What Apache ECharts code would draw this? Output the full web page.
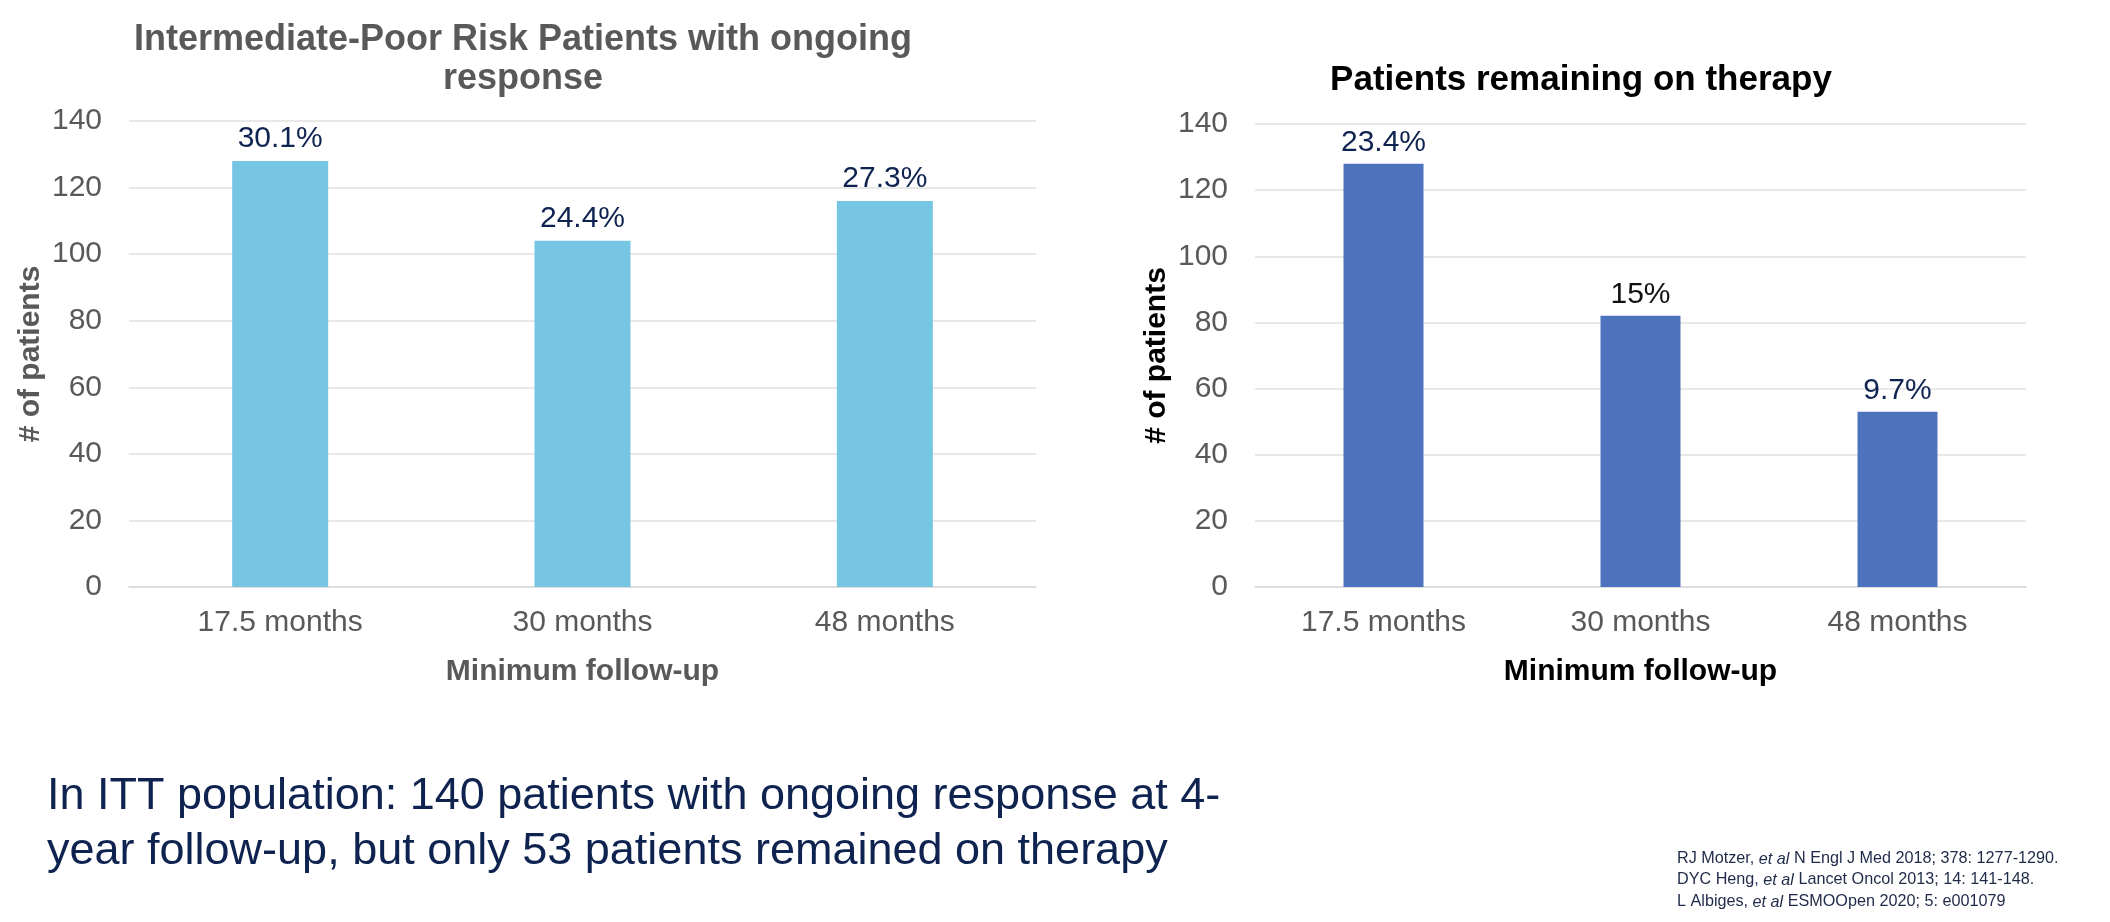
<!DOCTYPE html>
<html>
<head>
<meta charset="utf-8">
<script src="https://cdn.jsdelivr.net/npm/echarts@6/dist/echarts.min.js"></script>
<style>
html,body{margin:0;padding:0;background:#fff;}
#c{width:2110px;height:922px;}
</style>
</head>
<body>
<div id="c"></div>
<script>
const categories = ['17.5 months', '30 months', '48 months'];
const responseValues = [128, 104, 116];
const responseLabels = ['30.1%', '24.4%', '27.3%'];
const therapyValues = [128, 82, 53];
const therapyLabels = ['23.4%', '15%', '9.7%'];
const yTicks = { min: 0, max: 140, interval: 20 };

const FONT = '"Liberation Sans", Arial, sans-serif';
const GREY = '#595959';
const NAVY = '#0f2350';
const CITE = '#1f2a48';

const chart = echarts.init(document.getElementById('c'));

function xAx(gridIndex, nameColor) {
  return {
    type: 'category', gridIndex, data: categories,
    axisLine: { lineStyle: { color: '#d9d9d9', width: 1.5 } },
    axisTick: { show: false },
    axisLabel: { color: GREY, fontSize: 30, fontFamily: FONT, margin: 21 },
    name: 'Minimum follow-up', nameLocation: 'middle', nameGap: 70,
    nameTextStyle: { color: nameColor, fontSize: 30, fontWeight: 'bold', fontFamily: FONT }
  };
}
function yAx(gridIndex, nameColor) {
  return {
    type: 'value', gridIndex, min: yTicks.min, max: yTicks.max, interval: yTicks.interval,
    axisLine: { show: false }, axisTick: { show: false },
    splitLine: { lineStyle: { color: '#e0e0e0', width: 1.5 } },
    axisLabel: { color: GREY, fontSize: 30, fontFamily: FONT, margin: 27 },
    name: '# of patients', nameLocation: 'middle', nameGap: 83,
    nameTextStyle: { color: nameColor, fontSize: 30, fontWeight: 'bold', fontFamily: FONT }
  };
}

function cite(y, a, b) {
  return { type: 'text', x: 1677, y, style: {
    text: '{n|' + a + '}{i|et al}{n|' + b + '}',
    rich: { n: { fill: CITE, font: '16.2px ' + FONT }, i: { fill: CITE, font: 'italic 16.2px ' + FONT } },
    textVerticalAlign: 'middle' } };
}

chart.setOption({
  animation: false,
  grid: [
    { left: 129, right: 1074, top: 121, bottom: 335 },
    { left: 1255, right: 84, top: 124, bottom: 335 }
  ],
  xAxis: [xAx(0, GREY), xAx(1, '#000')],
  yAxis: [yAx(0, GREY), yAx(1, '#000')],
  series: [
    {
      type: 'bar', xAxisIndex: 0, yAxisIndex: 0, barWidth: 96,
      itemStyle: { color: '#76c6e3' },
      data: responseValues.map((v, i) => ({ value: v, label: { formatter: responseLabels[i] } })),
      label: { show: true, position: 'top', distance: 7, color: NAVY, fontSize: 30, fontFamily: FONT }
    },
    {
      type: 'bar', xAxisIndex: 1, yAxisIndex: 1, barWidth: 80,
      itemStyle: { color: '#4e73be' },
      data: therapyValues.map((v, i) => ({ value: v, label: { formatter: therapyLabels[i], color: i === 1 ? '#111' : NAVY } })),
      label: { show: true, position: 'top', distance: 6, color: NAVY, fontSize: 30, fontFamily: FONT }
    }
  ],
  graphic: [
    { type: 'text', x: 523, y: 40, style: { text: 'Intermediate-Poor Risk Patients with ongoing', fill: GREY, font: 'bold 36px ' + FONT, textAlign: 'center', textVerticalAlign: 'middle' } },
    { type: 'text', x: 523, y: 79, style: { text: 'response', fill: GREY, font: 'bold 36px ' + FONT, textAlign: 'center', textVerticalAlign: 'middle' } },
    { type: 'text', x: 1581, y: 80, style: { text: 'Patients remaining on therapy', fill: '#000', font: 'bold 35px ' + FONT, textAlign: 'center', textVerticalAlign: 'middle' } },
    { type: 'text', x: 47, y: 797, style: { text: 'In ITT population: 140 patients with ongoing response at 4-', fill: NAVY, font: '45px ' + FONT, textVerticalAlign: 'middle' } },
    { type: 'text', x: 47, y: 852, style: { text: 'year follow-up, but only 53 patients remained on therapy', fill: NAVY, font: '45px ' + FONT, textVerticalAlign: 'middle' } },
    cite(859, 'RJ Motzer, ', ' N Engl J Med 2018; 378: 1277-1290.'),
    cite(880, 'DYC Heng, ', ' Lancet Oncol 2013; 14: 141-148.'),
    cite(902, 'L Albiges, ', ' ESMOOpen 2020; 5: e001079')
  ]
});
</script>
</body>
</html>
